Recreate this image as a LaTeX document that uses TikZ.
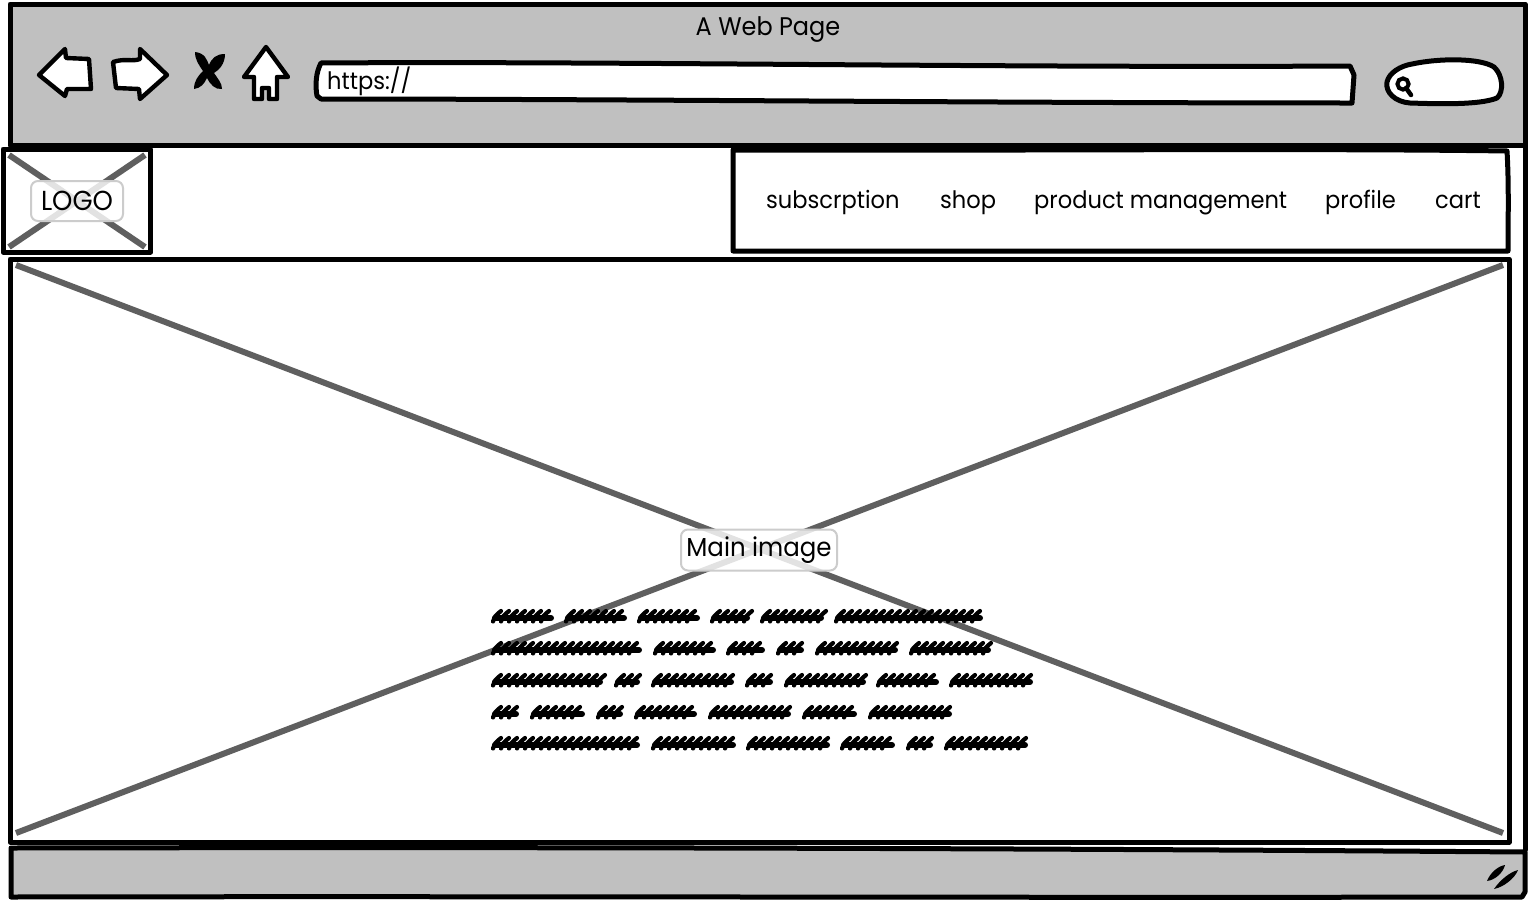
\documentclass[tikz,border=0pt]{standalone}
\usepackage{fontspec}
\setmainfont[FakeStretch=0.94]{Poppins}
\tikzset{
  px/.style={x=1pt,y=-1pt},
  ink/.style={draw=black,line width=5pt,line join=round,line cap=round},
  graybar/.style={ink,fill=barfill},
  icon/.style={ink,fill=white},
  crossline/.style={draw=crossgray,line width=6pt},
  caption/.style={fill=white,fill opacity=.82,text opacity=1,draw=black!20,line width=2pt,rounded corners=7pt,inner sep=0pt,font=\fontsize{26}{26}\selectfont,text=black},
  label/.style={font=\fontsize{24}{24}\selectfont,text=black,inner sep=0pt,anchor=base west},
}
\definecolor{barfill}{HTML}{C0C0C0}
\definecolor{crossgray}{HTML}{5F5F5F}
\newcommand{\scrib}[3]{%
  \draw[line width=6pt,line cap=round] (#1+3,#3+2) -- (#2-5,#3+2);
  \pgfmathsetmacro{\scribend}{#2-9}
  \pgfmathsetmacro{\scribnext}{#1+8}
  \foreach \q in {#1,\scribnext,...,\scribend}{
    \draw[line width=4.2pt,line cap=round] (\q+1,#3+5.5) .. controls (\q+3,#3) .. (\q+9,#3-5);
  }
}
\begin{document}
\begin{tikzpicture}[px]
\useasboundingbox (0,0) rectangle (1530,902);
\fill[white] (0,0) rectangle (1530,902);
% browser top bar
\draw[graybar] (10,4) -- (1525,4) -- (1525,145) -- (10,145) -- cycle;
\draw[ink] (1525,145) -- (1525,850);
\node[font=\fontsize{25.5}{25.5}\selectfont,inner sep=0pt] (title) at (768,30) {A Web Page};
% toolbar icons
\draw[icon,line width=4.4pt] (39,75) -- (65,49) -- (66,58) -- (89,59) -- (91,89) -- (67,89) -- (65,96) -- cycle;
\draw[icon,line width=4.4pt] (113,62) .. controls (125,58) and (132,62) .. (140,59) -- (140,49) -- (167,75) -- (140,99) -- (139,89) -- (116,88) -- cycle;
\fill[black] (195,52) .. controls (205,53) and (207,60) .. (209,65) .. controls (212,58) and (216,54) .. (225,54) .. controls (225,64) and (219,70) .. (214,73) .. controls (218,79) and (222,83) .. (222,89) .. controls (215,90) and (210,84) .. (207,78) .. controls (204,84) and (201,88) .. (194,89) .. controls (194,81) and (198,76) .. (203,71) .. controls (199,65) and (195,60) .. (195,52) -- cycle;
\draw[icon,line width=4.4pt] (266,47) -- (288,77) -- (277,77) -- (277,99) -- (269,99) -- (269,88) -- (262,88) -- (262,99) -- (254,99) -- (254,77) -- (244,77) -- cycle;
% address bar
\draw[icon] (321,63) .. controls (600,61) and (1000,68) .. (1350,66) -- (1354,75) -- (1352,103) .. controls (1000,103) and (600,99) .. (321,99) -- (317,96) .. controls (315,85) and (316,72) .. cycle;
\node[label] (url) at (327,89) {https://};
% search box
\draw[icon] (1412,64) .. controls (1440,58) and (1480,58) .. (1494,67) .. controls (1503,75) and (1504,92) .. (1497,98) .. controls (1480,105) and (1440,104) .. (1410,103) .. controls (1395,102) and (1385,92) .. (1387,82) .. controls (1389,73) and (1400,66) .. (1412,64) -- cycle;
\draw[line width=4pt] (1403,84) circle (5.6pt);
\draw[line width=4.5pt,line cap=round] (1406,88) -- (1411,95);
% logo
\draw[crossline] (9,155) -- (145,247) (145,155) -- (9,247);
\draw[ink,line cap=butt] (3,149) rectangle (150.5,252);
\node[caption,minimum width=92pt,minimum height=40pt,font=\fontsize{27.5}{27.5}\selectfont] (logo) at (77,201) {LOGO};
% navigation
\draw[ink] (733,150) .. controls (1000,151) and (1300,148) .. (1507,151) .. controls (1509,185) and (1508,220) .. (1508,251) -- (733,251) -- cycle;
\node[label] (subs) at (766,208) {subscrption};
\node[label] (shop) at (940,208) {shop};
\node[label] (prod) at (1034,208) {product management};
\node[label] (prof) at (1325,208) {profile};
\node[label] (cart) at (1435,208) {cart};
% main image
\draw[ink,line cap=butt] (10,259) rectangle (1509,842);
\draw[crossline] (16,265) -- (1503,833) (1503,265) -- (16,833);
\node[caption,minimum width=156pt,minimum height=41pt] (main) at (759,550) {Main image};
% scribbled paragraph
\foreach \a/\b in {492/556,565/629,638/702,711/752,761/826,835/985}{\scrib{\a}{\b}{616}}
\foreach \a/\b in {492/644,654/718,727/767,777/806,816/900,910/993}{\scrib{\a}{\b}{648}}
\foreach \a/\b in {492/605,615/642,652/736,746/775,785/868,877/941,950/1035}{\scrib{\a}{\b}{680}}
\foreach \a/\b in {492/521,531/587,597/625,635/699,709/793,803/859,869/954}{\scrib{\a}{\b}{712}}
\foreach \a/\b in {492/642,652/738,747/832,841/897,907/935,945/1030}{\scrib{\a}{\b}{743}}
% bottom status bar
\draw[graybar] (11,848) .. controls (500,847) and (1000,848) .. (1525,852) -- (1525,892) -- (1522,897) .. controls (1000,898) and (500,896) .. (11,897) -- cycle;
\fill[black] (1487,881) .. controls (1490,873) and (1498,866) .. (1505,865) .. controls (1503,873) and (1495,880) .. (1487,881) -- cycle;
\fill[black] (1494,889) .. controls (1500,880) and (1510,872) .. (1518,870) .. controls (1515,878) and (1504,887) .. (1494,889) -- cycle;
\end{tikzpicture}
\end{document}
